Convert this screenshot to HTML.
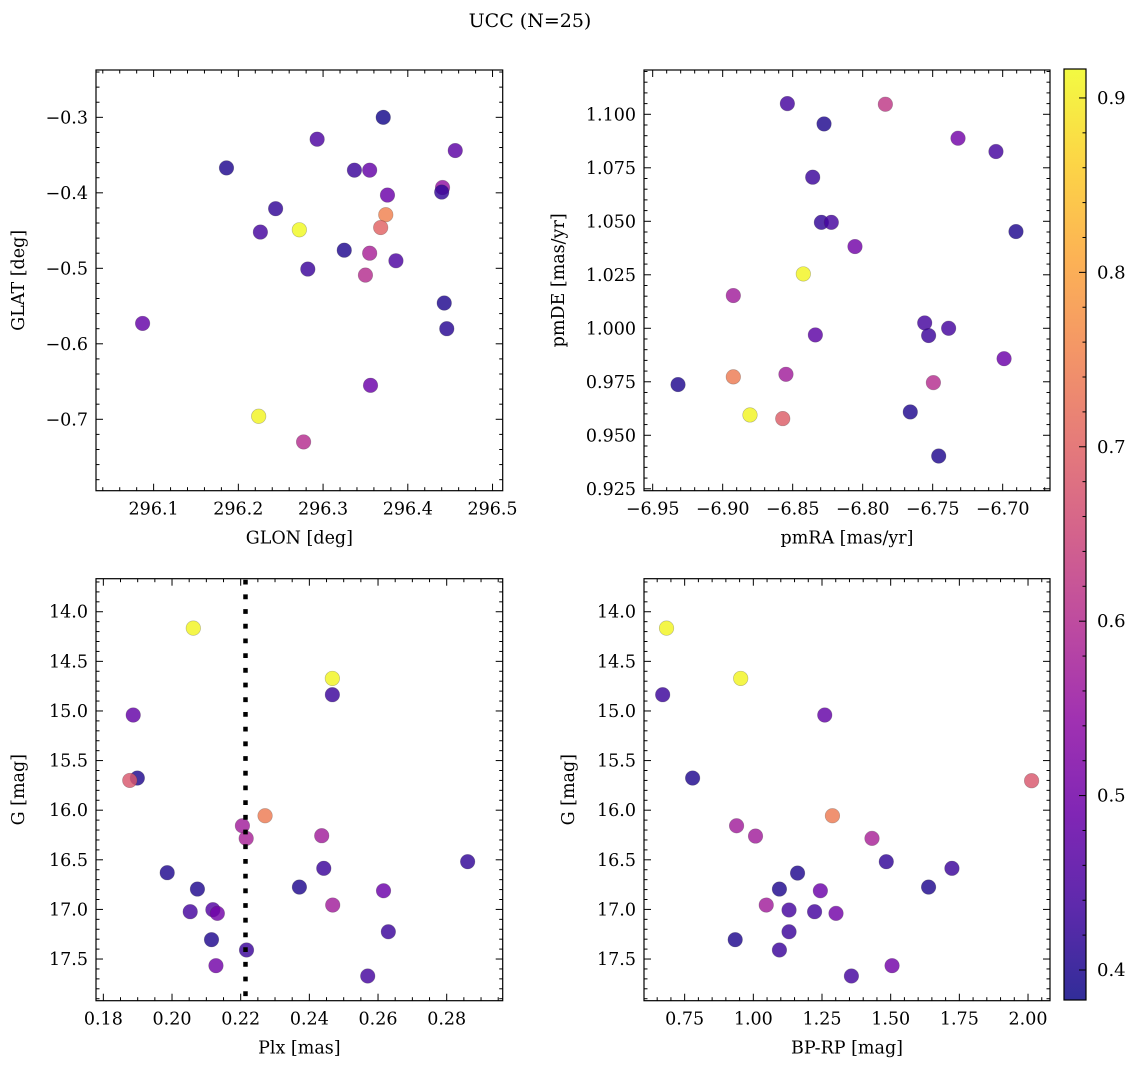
<!DOCTYPE html>
<html><head><meta charset="utf-8">
<style>
html,body{margin:0;padding:0;background:#fff;}
svg{display:block;font-family:"DejaVu Serif","Liberation Serif",serif;}
</style></head>
<body>
<svg id="fig" width="1136" height="1068" viewBox="0 0 1136 1068" xmlns="http://www.w3.org/2000/svg">
<text x="530" y="27" font-size="19" text-anchor="middle">UCC (N=25)</text>
</svg>
<script>
// ---- data ----
const glon = [296.371,296.293,296.456,296.186,296.337,296.355,296.441,296.440,296.376,296.244,296.374,296.368,296.226,296.272,296.325,296.355,296.386,296.282,296.350,296.443,296.446,296.087,296.356,296.224,296.277];
const glat = [-0.300,-0.329,-0.344,-0.367,-0.370,-0.370,-0.393,-0.399,-0.403,-0.421,-0.429,-0.446,-0.452,-0.449,-0.476,-0.480,-0.490,-0.501,-0.509,-0.546,-0.580,-0.573,-0.655,-0.696,-0.730];
const colGal = [0.39,0.45,0.47,0.40,0.43,0.48,0.55,0.42,0.49,0.42,0.75,0.70,0.44,0.92,0.40,0.58,0.45,0.43,0.60,0.40,0.41,0.48,0.49,0.91,0.60];

const pmra = [-6.8538,-6.7838,-6.8276,-6.7319,-6.7048,-6.8357,-6.8295,-6.8224,-6.6905,-6.8055,-6.8424,-6.8924,-6.7557,-6.7386,-6.7529,-6.8338,-6.6990,-6.8924,-6.8548,-6.9319,-6.7495,-6.8805,-6.8571,-6.7660,-6.7457];
const pmde = [1.1050,1.1047,1.0955,1.0888,1.0826,1.0706,1.0495,1.0495,1.0452,1.0382,1.0254,1.0153,1.0025,1.0000,0.9966,0.9969,0.9858,0.9773,0.9785,0.9737,0.9746,0.9595,0.9578,0.9609,0.9403];
const colPm = [0.44,0.62,0.40,0.50,0.44,0.43,0.42,0.44,0.40,0.50,0.91,0.57,0.44,0.44,0.43,0.47,0.49,0.74,0.57,0.40,0.60,0.91,0.69,0.40,0.40];

const plx = [0.2062,0.2467,0.2467,0.1887,0.1899,0.1877,0.2271,0.2205,0.2216,0.2436,0.2861,0.2442,0.1986,0.2074,0.2371,0.2616,0.2053,0.2119,0.2132,0.2468,0.2630,0.2115,0.2217,0.2128,0.2570];
const gPlx = [14.165,14.672,14.836,15.041,15.676,15.700,16.056,16.157,16.284,16.257,16.519,16.586,16.630,16.795,16.775,16.812,17.023,17.003,17.040,16.956,17.225,17.305,17.409,17.567,17.671];
const colPlx = [0.91,0.91,0.43,0.48,0.40,0.68,0.74,0.57,0.58,0.57,0.42,0.43,0.40,0.40,0.40,0.49,0.44,0.46,0.50,0.57,0.43,0.40,0.43,0.50,0.44];
const plxLine = [0.2214];

const bprp = [0.684,0.954,0.670,1.260,0.779,2.013,1.288,0.939,1.008,1.432,1.484,1.723,1.161,1.095,1.638,1.244,1.047,1.130,1.223,1.301,1.130,0.934,1.095,1.505,1.357];
const gCmd = [14.165,14.672,14.836,15.041,15.676,15.703,16.056,16.157,16.261,16.284,16.519,16.586,16.634,16.795,16.775,16.812,16.956,17.006,17.023,17.040,17.225,17.305,17.409,17.567,17.671];
const colCmd = [0.91,0.91,0.43,0.48,0.40,0.68,0.74,0.57,0.57,0.58,0.42,0.43,0.40,0.40,0.40,0.49,0.57,0.44,0.44,0.50,0.43,0.40,0.43,0.50,0.44];

const cbTicks = [0.4,0.5,0.6,0.7,0.8,0.9];
const cbRange = [0.3828,0.9166];

const NS="http://www.w3.org/2000/svg";
const fig=document.getElementById('fig');
function mk(tag,attrs,parent){const e=document.createElementNS(NS,tag);for(const k in attrs)e.setAttribute(k,attrs[k]);(parent||fig).appendChild(e);return e;}
const plasma=[[13,8,135],[65,4,157],[106,0,168],[143,13,164],[177,42,144],[204,71,120],[225,100,98],[242,132,75],[252,166,54],[252,206,37],[240,249,33]];
function cmap(v){let t=(v-cbRange[0])/(cbRange[1]-cbRange[0]);t=Math.max(0,Math.min(1,t))*10;const i=Math.min(9,Math.floor(t)),f=t-i;const a=plasma[i],b=plasma[i+1];return `rgb(${Math.round(a[0]+(b[0]-a[0])*f)},${Math.round(a[1]+(b[1]-a[1])*f)},${Math.round(a[2]+(b[2]-a[2])*f)})`;}
function fmt(v,d){return (v<0?'\u2212':'')+Math.abs(v).toFixed(d);}

function panel(o){
  const g=mk('g',{});
  
  
  const L=o.box[0],T=o.box[1],R=o.box[2],B=o.box[3];
  const sx=v=>L+(v-o.xr[0])/(o.xr[1]-o.xr[0])*(R-L);
  const sy=v=>T+(v-o.yr[0])/(o.yr[1]-o.yr[0])*(B-T);
  for(let i=0;i<o.x.length;i++){
    const c=mk('circle',{cx:sx(o.x[i]),cy:sy(o.y[i]),r:7.3,fill:cmap(o.c[i]),'fill-opacity':0.82,stroke:'rgba(60,60,60,0.35)','stroke-width':0.6},g);
    
    
  }
  if(o.vline){for(const v of o.vline){
    const l=mk('line',{x1:sx(v),x2:sx(v),y1:T+1,y2:B,stroke:'#000','stroke-width':4.5,'stroke-dasharray':'4.8 9.9'},g);
    
    
  }}
  const eps=1e-9;
  const tk=(min,maj,lo,hi,cb)=>{const s=Math.ceil((lo-eps)/min);for(let k=s;k*min<=hi+eps;k++){const v=k*min;const isMaj=Math.abs(v/maj-Math.round(v/maj))<1e-6;cb(v,isMaj);}};
  tk(o.xmin,o.xmaj,o.xr[0],o.xr[1],(v,m)=>{const x=sx(v),len=m?7:3.5;
    mk('line',{x1:x,x2:x,y1:B,y2:B-len,stroke:'#000','stroke-width':1},g);
    mk('line',{x1:x,x2:x,y1:T,y2:T+len,stroke:'#000','stroke-width':1},g);
    if(m){const t=mk('text',{x:x,y:B+24,'font-size':17.5,'text-anchor':'middle'},g);t.textContent=fmt(v,o.xd);
      }
  });
  const ylo=Math.min(o.yr[0],o.yr[1]),yhi=Math.max(o.yr[0],o.yr[1]);
  tk(o.ymin,o.ymaj,ylo,yhi,(v,m)=>{const y=sy(v),len=m?7:3.5;
    mk('line',{x1:L,x2:L+len,y1:y,y2:y,stroke:'#000','stroke-width':1},g);
    mk('line',{x1:R,x2:R-len,y1:y,y2:y,stroke:'#000','stroke-width':1},g);
    if(m){const t=mk('text',{x:L-8,y:y+6,'font-size':17.5,'text-anchor':'end'},g);t.textContent=fmt(v,o.yd);
      }
  });
  const fr=mk('rect',{x:L,y:T,width:R-L,height:B-T,fill:'none',stroke:'#000','stroke-width':1.2},g);
  
  const xl=mk('text',{x:(L+R)/2,y:B+53,'font-size':17.5,'text-anchor':'middle'},g);xl.textContent=o.xlab;
  
  const yl=mk('text',{x:0,y:0,'font-size':17.5,'text-anchor':'middle',transform:`translate(${o.ylx},${(T+B)/2}) rotate(-90)`},g);yl.textContent=o.ylab;
  
}

panel({name:'glon-glat-panel',box:[96,70,502.7,490.7],xr:[296.032,296.512],yr:[-0.2373,-0.7946],x:glon,y:glat,c:colGal,
  xmaj:0.1,xmin:0.02,ymaj:0.1,ymin:0.02,xd:1,yd:1,xlab:'GLON [deg]',ylab:'GLAT [deg]',ylx:24});
panel({name:'proper-motion-panel',box:[644,70,1050,490.7],xr:[-6.9562,-6.6662],yr:[1.1207,0.9241],x:pmra,y:pmde,c:colPm,
  xmaj:0.05,xmin:0.01,ymaj:0.025,ymin:0.005,xd:2,yd:3,xlab:'pmRA [mas/yr]',ylab:'pmDE [mas/yr]',ylx:564});
panel({name:'parallax-magnitude-panel',box:[96,578.7,502.7,1000.7],xr:[0.17786,0.29631],yr:[13.667,17.920],x:plx,y:gPlx,c:colPlx,vline:plxLine,
  xmaj:0.02,xmin:0.005,ymaj:0.5,ymin:0.1,xd:2,yd:1,xlab:'Plx [mas]',ylab:'G [mag]',ylx:24});
panel({name:'color-magnitude-panel',box:[644,578.7,1050,1000.7],xr:[0.602,2.080],yr:[13.667,17.920],x:bprp,y:gCmd,c:colCmd,
  xmaj:0.25,xmin:0.05,ymaj:0.5,ymin:0.1,xd:2,yd:1,xlab:'BP-RP [mag]',ylab:'G [mag]',ylx:574});

(function(){
  const L=1064,R=1086,T=69,B=1000;
  const g=mk('g',{});
  
  
  const defs=mk('defs',{},g);
  const lg=mk('linearGradient',{id:'pl',x1:0,y1:1,x2:0,y2:0},defs);
  for(let i=0;i<=10;i++){const p=plasma[i];mk('stop',{offset:(i*10)+'%','stop-color':`rgb(${p[0]},${p[1]},${p[2]})`,'stop-opacity':0.85},lg);}
  mk('rect',{x:L,y:T,width:R-L,height:B-T,fill:'url(#pl)'},g);
  const sy=v=>B-(v-cbRange[0])/(cbRange[1]-cbRange[0])*(B-T);
  for(let k=20;k<=45;k++){const vv=k*0.02;if(vv<cbRange[0]||vv>cbRange[1])continue;const y=sy(vv);const maj=(k%5)===0;
    mk('line',{x1:R,x2:R-(maj?7:3.5),y1:y,y2:y,stroke:'#000','stroke-width':1},g);}
  for(const v of cbTicks){const y=sy(v);
    const t=mk('text',{x:R+11,y:y+6,'font-size':18},g);t.textContent=v.toFixed(1);
    }
  mk('rect',{x:L,y:T,width:R-L,height:B-T,fill:'none',stroke:'#000','stroke-width':1.2},g);
})();
</script>
</body></html>
